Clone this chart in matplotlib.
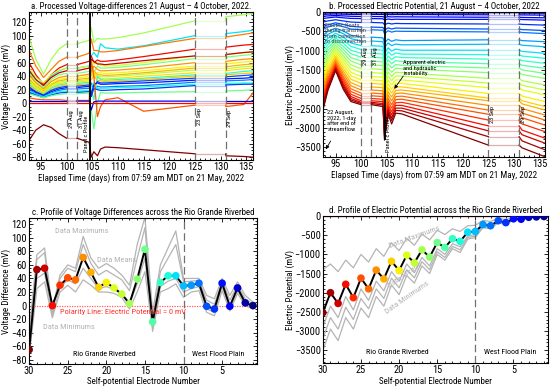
import numpy as np
import matplotlib
matplotlib.use('Agg')
import matplotlib.pyplot as plt
from matplotlib import font_manager
from matplotlib.ticker import MultipleLocator

# pick a narrow sans font if one is around, the original uses a condensed face
_names = {f.name for f in font_manager.fontManager.ttflist}
_cond = [f for f in font_manager.fontManager.ttflist
         if f.name == 'DejaVu Sans' and 'condensed' in str(f.stretch)]
narrow = None
for cand in ['Liberation Sans Narrow', 'Roboto Condensed', 'Open Sans Condensed', 'Arial Narrow']:
    if cand in _names:
        narrow = cand
        break
if narrow:
    plt.rcParams['font.family'] = [narrow, 'DejaVu Sans']
    scale = 1.0
elif _cond:
    plt.rcParams['font.family'] = ['DejaVu Sans']
    plt.rcParams['font.stretch'] = 'condensed'
    scale = 0.9
else:
    plt.rcParams['font.family'] = ['Liberation Sans', 'DejaVu Sans']
    scale = 0.82

# ---------------- panel a: voltage differences (one array per knot time) ----------------
a_colors = [0.55, 0.35, 0.78, 0.90, 0.60, 0.93, 0.50, 0.75, 0.65, 0.72, 0.57, 0.67,
            0.40, 0.70, 0.20, 0.15, 0.25, 0.38, 0.18, 0.48, 0.82, 0.10, 0.90, 1.00]
a_times1 = [92.7, 94, 95.5, 97, 98.5, 100]
a_d0927 = [98, 50, 78, 60, 52, 48, 45, 42, 38, 35, 33, 30, 28, 26, 24, 22, 20, 18, 16, 14, 8, 3, 0, -55]
a_d0940 = [65, 35, 55, 42, 38, 35, 32, 30, 27, 25, 24, 22, 20, 19, 17, 16, 14, 13, 12, 11, 6, 3, 0, -40]
a_d0955 = [43, 26, 38, 28, 30, 26, 23, 21, 19, 18, 17, 16, 14, 13, 12, 11, 10, 9, 8, 8, 5, 3, 0, -32]
a_d0970 = [65, 40, 50, 42, 42, 38, 35, 32, 29, 27, 26, 24, 22, 20, 19, 17, 15, 14, 12, 11, 5, 3, 0, -36]
a_d0985 = [80, 48, 62, 52, 49, 45, 42, 38, 35, 33, 31, 29, 27, 25, 23, 21, 19, 17, 15, 13, 5, 3, 0, -45]
a_d1000 = [88, 52, 68, 57, 52, 48, 44, 40, 37, 35, 33, 31, 29, 27, 25, 23, 21, 18, 16, 14, 4, 3, 0, -52]
a_times2 = [104.4, 104.8, 105.3, 106, 106.6, 107.5, 110, 115, 125]
a_d1044 = [93, 55, 74, 62, 55, 52, 47, 43, 40, 37, 35, 33, 31, 29, 27, 25, 22, 19, 17, 15, 4, 3, 0, -58]
a_d1048 = [112, 70, 95, 70, 65, 65, 60, 45, 55, 50, 45, 40, 20, 35, 15, 10, 30, 25, 10, -10, 62, -10, 0, -80]
a_d1053 = [90, 75, 78, 60, 58, 62, 45, 55, 42, 48, 38, 45, 5, 40, 25, 28, 20, 30, 22, -38, 40, 2, 0, -72]
a_d1060 = [96, 68, 78, 64, 60, 58, 55, 50, 45, 42, 40, 38, 40, 34, 32, 30, 25, 22, 20, 0, -20, 3, 0, -78]
a_d1066 = [95, 88, 76, 62, 56, 58, 52, 48, 45, 42, 40, 37, 35, 33, 30, 28, 24, 22, 19, 16, -5, 3, 0, -68]
a_d1075 = [95, 82, 76, 62, 55, 57, 52, 48, 44, 41, 39, 36, 34, 32, 30, 28, 24, 22, 19, 15, 5, 3, 0, -65]
a_d1100 = [97, 80, 78, 64, 56, 59, 53, 49, 45, 42, 40, 37, 35, 33, 31, 29, 25, 23, 20, 15, 8, 3, 0, -66]
a_d1150 = [104, 85, 84, 69, 60, 63, 57, 52, 48, 45, 43, 40, 37, 35, 33, 30, 26, 24, 21, 16, -12, 3, 0, -69]
a_d1250 = [122, 100, 96, 80, 70, 70, 66, 60, 55, 52, 49, 45, 42, 40, 37, 34, 31, 28, 26, 17, -3, 3, 0, -75]
a_times3 = [131, 134.5, 136.3]
a_d1310 = [128, 103, 98, 83, 72, 72, 68, 62, 58, 54, 51, 48, 44, 42, 39, 36, 33, 29, 27, 18, -5, 3, 0, -78]
a_d1345 = [131, 106, 102, 86, 75, 75, 71, 65, 61, 57, 54, 51, 47, 44, 41, 37, 34, 30, 28, 19, -2, 3, 0, -79]
a_d1363 = [133, 108, 104, 87, 76, 76, 72, 66, 62, 58, 55, 52, 48, 45, 42, 38, 35, 30, 28, 20, 15, 3, 0, -80]

# ---------------- panel b: electric potential, electrodes 1..30 ----------------
b_times1 = [92.5, 93.5, 95, 96.5, 98, 100]
b_d0925 = [0, -20, -60, -110, -170, -260, -380, -450, -600, -700, -830, -930, -1030, -1130, -1240,
           -1340, -1450, -1560, -1680, -1780, -1880, -1980, -2060, -2140, -2220, -2300, -2370, -2430, -2490, -2550]
b_d0935 = [0, -18, -55, -100, -150, -230, -330, -390, -500, -580, -680, -760, -840, -920, -1000,
           -1080, -1160, -1240, -1320, -1400, -1480, -1560, -1630, -1700, -1760, -1820, -1880, -1930, -1980, -2030]
b_d0950 = [0, -15, -50, -90, -130, -200, -280, -330, -420, -480, -550, -610, -670, -730, -790,
           -850, -910, -970, -1030, -1090, -1150, -1210, -1260, -1310, -1350, -1390, -1430, -1460, -1490, -1520]
b_d0965 = [0, -18, -55, -100, -150, -230, -320, -380, -490, -560, -650, -730, -810, -890, -970,
           -1050, -1130, -1210, -1290, -1370, -1450, -1530, -1600, -1670, -1730, -1790, -1850, -1900, -1950, -2000]
b_d0980 = [0, -20, -60, -110, -165, -260, -370, -440, -600, -690, -800, -890, -990, -1080, -1180,
           -1270, -1370, -1460, -1560, -1650, -1740, -1830, -1910, -1990, -2060, -2130, -2190, -2240, -2280, -2320]
b_d1000 = [0, -20, -60, -115, -170, -270, -390, -460, -650, -750, -870, -970, -1070, -1170, -1270,
           -1370, -1470, -1570, -1670, -1760, -1850, -1940, -2020, -2100, -2170, -2240, -2300, -2340, -2370, -2400]
b_times2 = [104.3, 104.6, 105.3, 106, 106.8, 108, 125]
b_d1043 = [0, -22, -62, -118, -175, -280, -400, -470, -670, -770, -890, -990, -1090, -1190, -1290,
           -1390, -1490, -1590, -1690, -1780, -1870, -1960, -2040, -2120, -2190, -2260, -2320, -2370, -2410, -2450]
b_d1046 = [0, -30, -75, -140, -210, -330, -470, -560, -800, -920, -1070, -1200, -1330, -1460, -1600,
           -1730, -1870, -2000, -2140, -2270, -2400, -2520, -2650, -2770, -2890, -3000, -3100, -3180, -3250, -3320]
b_d1053 = [0, -24, -64, -120, -180, -290, -410, -485, -700, -800, -930, -1030, -1140, -1240, -1340,
           -1450, -1550, -1660, -1760, -1860, -1960, -2060, -2150, -2240, -2320, -2400, -2470, -2530, -2580, -2640]
b_d1060 = [0, -26, -68, -128, -195, -310, -440, -520, -760, -870, -1010, -1120, -1230, -1340, -1450,
           -1560, -1670, -1780, -1890, -2000, -2100, -2200, -2300, -2400, -2490, -2580, -2660, -2740, -2810, -2900]
b_d1068 = [0, -24, -64, -122, -185, -295, -415, -495, -720, -830, -960, -1060, -1160, -1260, -1360,
           -1460, -1560, -1660, -1760, -1850, -1940, -2030, -2110, -2190, -2270, -2350, -2420, -2490, -2550, -2620]
b_d1080 = [0, -25, -65, -125, -190, -300, -420, -500, -740, -850, -990, -1090, -1180, -1280, -1380,
           -1470, -1570, -1660, -1760, -1850, -1940, -2020, -2100, -2180, -2260, -2340, -2420, -2490, -2560, -2640]
b_d1250 = [0, -27, -72, -135, -190, -310, -440, -515, -720, -835, -990, -1105, -1220, -1340, -1450,
           -1570, -1720, -1840, -1960, -2110, -2230, -2300, -2420, -2540, -2650, -2800, -2950, -3080, -3230, -3450]
b_times3 = [131.6, 136.1]
b_d1316 = [0, -28, -75, -140, -195, -320, -455, -530, -740, -860, -1020, -1140, -1260, -1380, -1500,
           -1620, -1780, -1900, -2020, -2180, -2300, -2380, -2500, -2620, -2740, -2900, -3060, -3180, -3340, -3520]
b_d1361 = [0, -30, -80, -150, -210, -340, -480, -560, -770, -900, -1070, -1200, -1330, -1460, -1590,
           -1720, -1890, -2020, -2150, -2320, -2450, -2540, -2670, -2800, -2930, -3100, -3270, -3400, -3570, -3750]

# ---------------- panels c and d: profiles, electrodes 30..1 ----------------
electrodes = list(range(30, 0, -1))
c_values = [-65, 53, 55, 0, 30, 41, 38, 71, 49, 27, 34, 26, 17, 3, 39, 83, -24, 34, 44, 44,
            29, 30, 33, -1, -5, 33, -1, 26, 4, 0]
c_max = [-40, 75, 85, -5, 45, 60, 55, 102, 70, 55, 62, 55, 45, 30, 90, 130, -10, 60, 85, 110,
         40, 40, 40, 15, 10, 40, 15, 35, 15, 5]
c_upper = [-50, 68, 78, -10, 40, 55, 50, 90, 62, 45, 52, 45, 38, 22, 70, 115, -20, 50, 70, 90,
           35, 36, 37, 8, 2, 36, 8, 30, 10, 2]
c_lower = [-68, 40, 48, -14, 26, 38, 32, 55, 40, 25, 28, 24, 16, 2, 32, 70, -32, 28, 36, 40,
           20, 25, 28, -5, -10, 28, -4, 22, 2, -2]
c_min = [-75, 25, 35, -18, 20, 30, 20, 38, 30, 20, 20, 18, 12, -5, 20, 50, -38, 20, 25, 32,
         12, 20, 22, -10, -15, 22, -8, 18, 0, -5]

d_values = [-2520, -2000, -2280, -1780, -2130, -1620, -1900, -1410, -1640, -1180, -1420, -1020,
            -1220, -880, -1070, -690, -820, -590, -660, -420, -400, -220, -250, -120, -170, -70,
            -80, -30, -20, -10]
d_max = [-1400, -1250, -1450, -1150, -1350, -1000, -1200, -850, -1050, -700, -900, -580, -760,
         -470, -620, -370, -480, -330, -400, -250, -240, -110, -140, -60, -90, -35, -40, -10, -5, 0]
d_low1 = [-2900, -2350, -2650, -2100, -2450, -1900, -2200, -1700, -1950, -1450, -1700, -1250,
          -1480, -1080, -1300, -850, -1000, -720, -800, -520, -480, -260, -290, -140, -190, -80,
          -90, -35, -25, -10]
d_low2 = [-3200, -2650, -2950, -2380, -2700, -2150, -2420, -1900, -2150, -1620, -1870, -1400,
          -1610, -1190, -1400, -930, -1080, -790, -880, -560, -520, -280, -310, -155, -205, -88,
          -98, -38, -28, -12]
d_min = [-3500, -2950, -3250, -2650, -2950, -2400, -2650, -2100, -2350, -1800, -2050, -1550,
         -1750, -1300, -1500, -1000, -1150, -850, -950, -600, -560, -300, -330, -170, -220, -95,
         -105, -40, -30, -15]

jet = plt.cm.jet
grey = '#b4b4b4'
dash = '#707070'
fs_tick = 7.5 * scale
fs_title = 6.4 * scale
fs_lab = 6.5 * scale
fs_note = 4.6 * scale
fs_txt = 6 * scale


def style(ax):
    ax.tick_params(which='both', direction='in', top=True, right=True, labelsize=fs_tick, pad=1.5,
                   width=0.6)
    ax.tick_params(which='major', length=3)
    ax.tick_params(which='minor', length=1.5)
    for s in ax.spines.values():
        s.set_linewidth(0.8)


def draw_series(ax, colors, t1, v1, t2, v2, t3, v3, gap1, gap2):
    # v1, v2, v3: arrays shaped (knots, lines)
    for k, c in enumerate(colors):
        col = jet(c)
        ax.plot(t1, v1[:, k], color=col, lw=0.9)
        ax.plot(gap1, [v1[-1, k], v1[-1, k]], color=col, lw=0.9, alpha=0.3)
        ax.plot([gap1[1]] + t2, np.r_[v1[-1, k], v2[:, k]], color=col, lw=0.9)
        ax.plot(gap2, [v2[-1, k], v2[-1, k]], color=col, lw=0.9, alpha=0.3)
        ax.plot([gap2[1]] + t3, np.r_[v2[-1, k], v3[:, k]], color=col, lw=0.9)


fig = plt.figure(figsize=(5.5, 3.88), dpi=100)

# ---- a ----
ax = fig.add_axes([0.053, 0.588, 0.407, 0.381])
va1 = np.array([a_d0927, a_d0940, a_d0955, a_d0970, a_d0985, a_d1000])
va2 = np.array([a_d1044, a_d1048, a_d1053, a_d1060, a_d1066, a_d1075, a_d1100, a_d1150, a_d1250])
va3 = np.array([a_d1310, a_d1345, a_d1363])
draw_series(ax, a_colors, a_times1, va1, a_times2, va2, a_times3, va3, [100, 102], [125, 131])
for x in [100, 102, 125, 131]:
    ax.axvline(x, color=dash, lw=0.9, ls=(0, (6, 3)))
ax.axvline(104.6, color='k', lw=1.3)
ax.text(100.4, -24, '29 Aug', rotation=90, fontsize=fs_note, ha='left', va='center')
ax.text(102.4, -24, '31 Aug', rotation=90, fontsize=fs_note, ha='left', va='center')
ax.text(104.3, -45, 'Panel c Profile', rotation=90, fontsize=fs_note, ha='right', va='center')
ax.text(125.3, -20, '23 Sep', rotation=90, fontsize=fs_note, ha='left', va='center')
ax.text(131.3, -22, '29 Sep', rotation=90, fontsize=fs_note, ha='left', va='center')
ax.set_xlim(92.7, 136.3)
ax.set_ylim(-84, 135)
ax.xaxis.set_major_locator(MultipleLocator(5))
ax.xaxis.set_minor_locator(MultipleLocator(1))
ax.yaxis.set_major_locator(MultipleLocator(20))
ax.yaxis.set_minor_locator(MultipleLocator(5))
style(ax)
ax.set_title('a. Processed Voltage-differences 21 August \u2013 4 October, 2022.', fontsize=fs_title, pad=2.5)
ax.set_xlabel('Elapsed Time (days) from 07:59 am MDT on 21 May, 2022', fontsize=fs_lab, labelpad=1)
ax.set_ylabel('Voltage Difference (mV)', fontsize=fs_lab, labelpad=0)

# ---- b ----
ax = fig.add_axes([0.587, 0.595, 0.404, 0.374])
b_colors = [(e - 1) / 29 for e in range(1, 31)]
vb1 = np.array([b_d0925, b_d0935, b_d0950, b_d0965, b_d0980, b_d1000])
vb2 = np.array([b_d1043, b_d1046, b_d1053, b_d1060, b_d1068, b_d1080, b_d1250])
vb3 = np.array([b_d1316, b_d1361])
draw_series(ax, b_colors, b_times1, vb1, b_times2, vb2, b_times3, vb3, [100, 102], [125, 131])
for x in [100, 102, 125, 131]:
    ax.axvline(x, color=dash, lw=0.9, ls=(0, (6, 3)))
ax.vlines(104.6, -3320, 0, color='k', lw=1.3)
ax.text(100.4, -1150, '29 Aug', rotation=90, fontsize=fs_note, ha='left', va='center')
ax.text(102.4, -1150, '31 Aug', rotation=90, fontsize=fs_note, ha='left', va='center')
ax.text(104.9, -3150, 'Panel c Profile', rotation=90, fontsize=fs_note, ha='left', va='center')
ax.text(125.3, -2650, '23 Sep', rotation=90, fontsize=fs_note, ha='left', va='center')
ax.text(131.3, -2650, '29 Sep', rotation=90, fontsize=fs_note, ha='left', va='center')
ax.text(92.9, -280, 'Electric floats\nduring transition\nfrom connection\nto disconnection',
        fontsize=fs_note, color='#444444', va='top', linespacing=1.1)
ax.text(108.3, -1250, 'Apparent electric\nand hydraulic\ninstability', fontsize=fs_note, va='top',
        linespacing=1.1)
ax.annotate('', xy=(106.2, -2050), xytext=(108.6, -1600),
            arrowprops=dict(arrowstyle='-|>', color='k', lw=0.6, mutation_scale=5))
ax.text(93.4, -2550, '22 August,\n2022, 1-day\nafter end of\nstreamflow', fontsize=fs_note, va='top',
        linespacing=1.1)
ax.annotate('', xy=(92.8, -3620), xytext=(94.3, -3280),
            arrowprops=dict(arrowstyle='-|>', color='k', lw=0.6, mutation_scale=5))
ax.set_xlim(92.5, 136.1)
ax.set_ylim(-3760, 0)
ax.xaxis.set_major_locator(MultipleLocator(5))
ax.xaxis.set_minor_locator(MultipleLocator(1))
ax.yaxis.set_major_locator(MultipleLocator(500))
ax.yaxis.set_minor_locator(MultipleLocator(100))
style(ax)
ax.set_title('b. Processed Electric Potential, 21 August \u2013 4 October, 2022', fontsize=fs_title, pad=2.5)
ax.set_xlabel('Elapsed Time (days) from 07:59 am MDT on 21 May, 2022', fontsize=fs_lab, labelpad=1)
ax.set_ylabel('Electric Potential (mV)', fontsize=fs_lab, labelpad=0)

# ---- c ----
ax = fig.add_axes([0.053, 0.062, 0.414, 0.376])
for g in [c_max, c_upper, c_lower, c_min]:
    ax.plot(electrodes, g, color=grey, lw=0.9)
ax.axhline(0, color='#ff6060', lw=0.9, ls=(0, (1, 1)))
ax.axvline(10, color=dash, lw=0.9, ls=(0, (6, 3)))
ax.plot(electrodes, c_values, color='k', lw=1.4, zorder=3)
ax.scatter(electrodes, c_values, c=[jet((e - 1) / 29) for e in electrodes], s=30, zorder=4,
           edgecolors='none')
ax.text(26.6, 110, 'Data Maximums', color=grey, fontsize=fs_txt, va='center')
ax.text(21.2, 67, 'Data Means', color=grey, fontsize=fs_txt, va='center')
ax.text(28.2, -32, 'Data Minimums', color=grey, fontsize=fs_txt, va='center')
ax.text(26.0, -10, 'Polarity Line: Electric Potential = 0 mV', color='#ff3030', fontsize=fs_txt,
        va='center')
ax.text(20.3, -71, 'Rio Grande Riverbed', fontsize=fs_txt * 0.95, ha='center', va='center')
ax.text(5.5, -71, 'West Flood Plain', fontsize=fs_txt * 0.95, ha='center', va='center')
ax.set_xlim(30, 0.5)
ax.set_ylim(-86, 129)
ax.xaxis.set_major_locator(MultipleLocator(5))
ax.xaxis.set_minor_locator(MultipleLocator(1))
ax.yaxis.set_major_locator(MultipleLocator(20))
ax.yaxis.set_minor_locator(MultipleLocator(5))
style(ax)
ax.set_title('c. Profile of Voltage Differences across the Rio Grande Riverbed', fontsize=fs_title, pad=2.5)
ax.set_xlabel('Self-potential Electrode Number', fontsize=fs_lab, labelpad=1)
ax.set_ylabel('Voltage Difference (mV)', fontsize=fs_lab, labelpad=0)

# ---- d ----
ax = fig.add_axes([0.587, 0.064, 0.409, 0.379])
for g in [d_max, d_low1, d_low2, d_min]:
    ax.plot(electrodes, g, color=grey, lw=0.9)
ax.axhline(0, color='#ff6060', lw=1.0)
ax.axvline(10, color=dash, lw=0.9, ls=(0, (6, 3)))
ax.plot(electrodes, d_values, color='k', lw=1.4, zorder=3)
ax.scatter(electrodes, d_values, c=[jet((e - 1) / 29) for e in electrodes], s=30, zorder=4,
           edgecolors='none')
ax.text(18.0, -540, 'Data Maximums', color=grey, fontsize=fs_txt, rotation=20, ha='center', va='center')
ax.text(19.3, -1540, 'Data Means', color=grey, fontsize=fs_txt, rotation=35, ha='center', va='center')
ax.text(18.9, -2115, 'Data Minimums', color=grey, fontsize=fs_txt, rotation=35, ha='center', va='center')
ax.text(20.3, -3560, 'Rio Grande Riverbed', fontsize=fs_txt * 0.95, ha='center', va='center')
ax.text(5.4, -3560, 'West Flood Plain', fontsize=fs_txt * 0.95, ha='center', va='center')
ax.set_xlim(30, 0.5)
ax.set_ylim(-3840, 0)
ax.xaxis.set_major_locator(MultipleLocator(5))
ax.xaxis.set_minor_locator(MultipleLocator(1))
ax.yaxis.set_major_locator(MultipleLocator(500))
ax.yaxis.set_minor_locator(MultipleLocator(100))
style(ax)
ax.set_title('d. Profile of Electric Potential across the Rio Grande Riverbed', fontsize=fs_title, pad=2.5)
ax.set_xlabel('Self-potential Electrode Number', fontsize=fs_lab, labelpad=1)
ax.set_ylabel('Electric Potential (mV)', fontsize=fs_lab, labelpad=0)

fig.savefig('out.png', dpi=100)
